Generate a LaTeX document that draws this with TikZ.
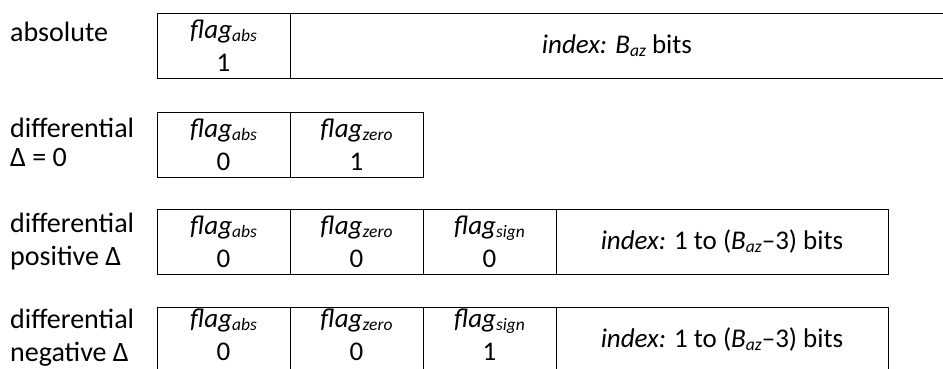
\documentclass[tikz,border=0pt]{standalone}
\usepackage{fontspec}
\setmainfont{Carlito}
\newcommand\sbx[1]{\raisebox{-3pt}{\fontsize{17.5}{17.5}\selectfont\itshape #1}}
\begin{document}
\begin{tikzpicture}[x=1pt,y=-1pt,
  cell/.style={draw, line width=1pt, rectangle, anchor=north west, outer sep=0pt,
    inner sep=0pt, minimum height=65pt, minimum width=133pt, align=center,
    font=\fontsize{27}{33}\selectfont},
  lastrow/.style={text depth=10pt},
  lbl/.style={anchor=base west, inner sep=0pt, font=\fontsize{28}{30}\selectfont}]
\useasboundingbox (0,0) rectangle (943,368);
\clip (0,0) rectangle (943,368);
% row 1
\node[lbl] (l1) at (10,41) {absolute};
\node[cell] (a1) at (157,13) {\textit{flag}\sbx{abs}\\1};
\node[cell, minimum width=654pt] (i1) at (290,13) {\textit{index:} \textit{B}\sbx{az} bits};
% row 2
\node[lbl] (l2a) at (10,137) {differential};
\node[lbl] (l2b) at (10,166) {Δ = 0};
\node[cell] (a2) at (157,112) {\textit{flag}\sbx{abs}\\0};
\node[cell] (z2) at (290,112) {\textit{flag}\sbx{zero}\\1};
% row 3
\node[lbl] (l3a) at (10,232) {differential};
\node[lbl] (l3b) at (10,265) {positive Δ};
\node[cell] (a3) at (157,209) {\textit{flag}\sbx{abs}\\0};
\node[cell] (z3) at (290,209) {\textit{flag}\sbx{zero}\\0};
\node[cell] (s3) at (423,209) {\textit{flag}\sbx{sign}\\0};
\node[cell, minimum width=332pt] (i3) at (556,209) {\textit{index:} 1 to (\textit{B}\sbx{az}–3) bits};
% row 4
\node[lbl] (l4a) at (10,328) {differential};
\node[lbl] (l4b) at (10,361) {negative Δ};
\node[cell, lastrow] (a4) at (157,307) {\textit{flag}\sbx{abs}\\0};
\node[cell, lastrow] (z4) at (290,307) {\textit{flag}\sbx{zero}\\0};
\node[cell, lastrow] (s4) at (423,307) {\textit{flag}\sbx{sign}\\1};
\node[cell] (i4) at (556,307) [minimum width=332pt] {\textit{index:} 1 to (\textit{B}\sbx{az}–3) bits};
\end{tikzpicture}
\end{document}
